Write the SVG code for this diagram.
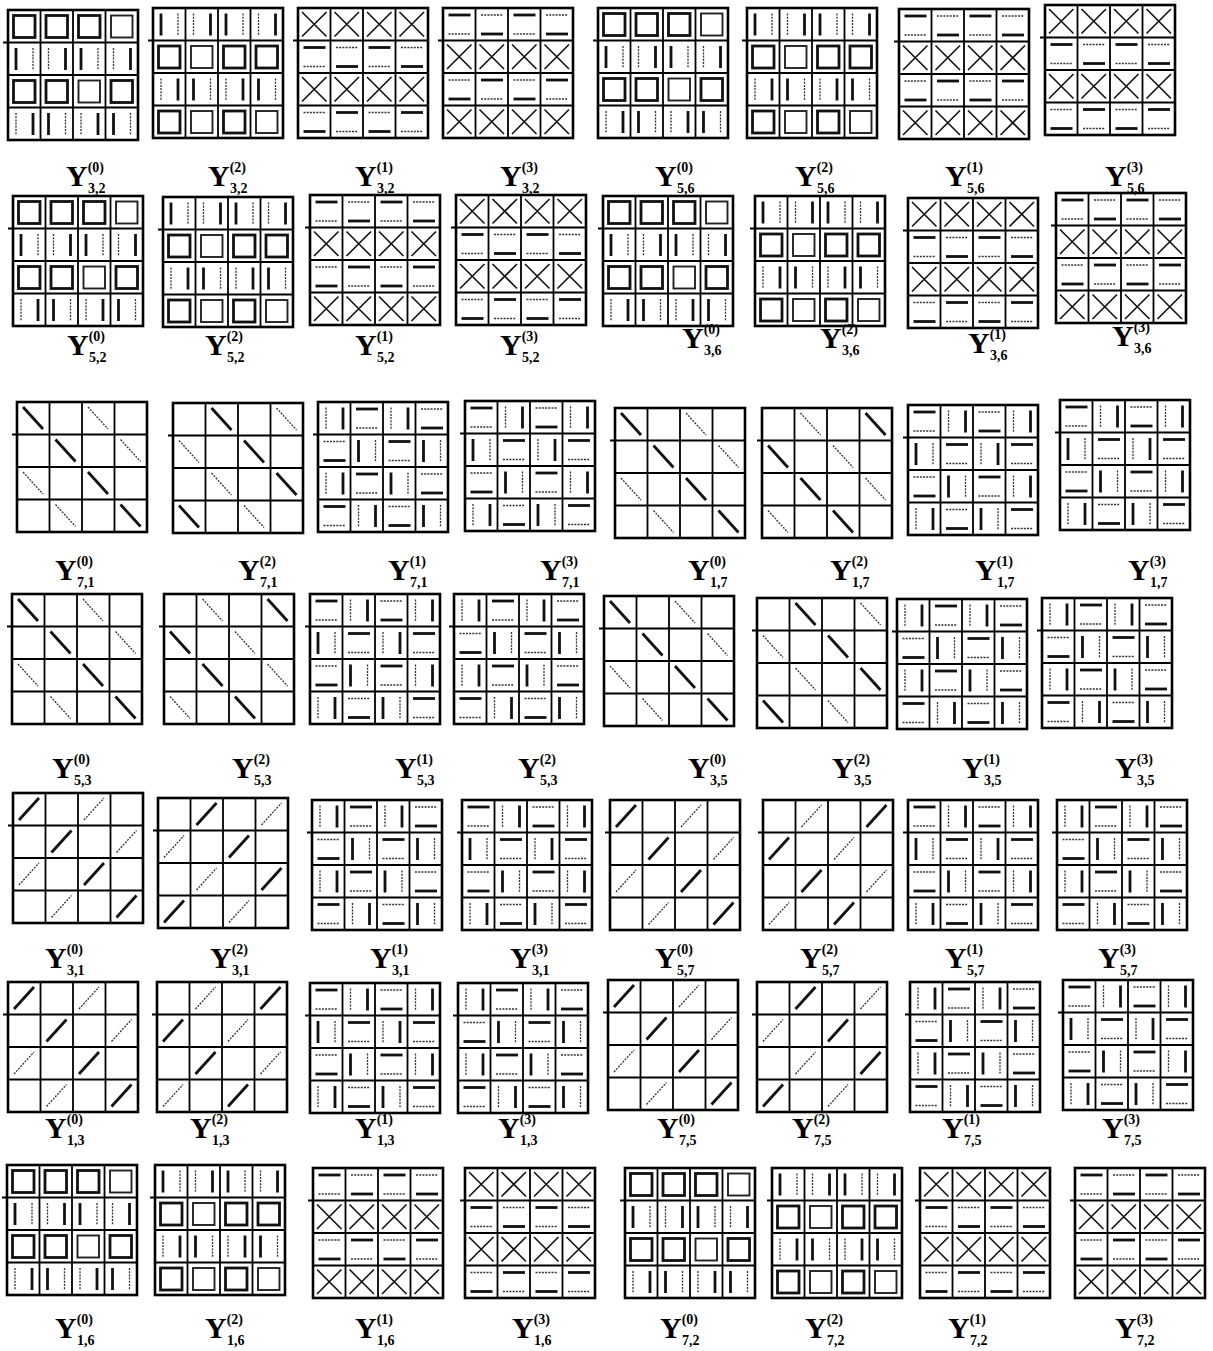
<svg xmlns="http://www.w3.org/2000/svg" width="1213" height="1351" viewBox="0 0 1213 1351">
<style>
.fr{fill:none;stroke:#000;stroke-width:2.6}
.ln{fill:none;stroke:#000;stroke-width:1.8}
.k{fill:none;stroke:#111;stroke-width:2.8}
.q{fill:none;stroke:#222;stroke-width:1.9}
.t{fill:none;stroke:#333;stroke-width:1.3;stroke-dasharray:2 1.2}
.x{fill:none;stroke:#111;stroke-width:1.6}
.y{font-family:"Liberation Serif","Times New Roman",serif;font-weight:bold;font-size:30px;fill:#000}
.s{font-size:14px}
</style>
<defs>
<g id="fr"><rect width="130" height="130" class="fr"/><path class="ln" d="M-5 32.5H130M0 65H130M0 97.5H130M32.5 0V130M65 0V130M97.5 0V130"/></g>
<rect id="sq" x="5.5" y="5.5" width="21.5" height="22" class="k"/>
<rect id="sqt" x="5.5" y="5.5" width="21.5" height="22" class="q"/>
<g id="vL"><line x1="8" y1="5.5" x2="8" y2="27.5" class="k"/><line x1="25" y1="5.5" x2="25" y2="27.5" class="t"/></g>
<g id="vR"><line x1="8" y1="5.5" x2="8" y2="27.5" class="t"/><line x1="25" y1="5.5" x2="25" y2="27.5" class="k"/></g>
<g id="hT"><line x1="5.5" y1="7" x2="27.5" y2="7" class="k"/><line x1="5.5" y1="26" x2="27.5" y2="26" class="t"/></g>
<g id="hB"><line x1="5.5" y1="7" x2="27.5" y2="7" class="t"/><line x1="5.5" y1="26" x2="27.5" y2="26" class="k"/></g>
<path id="xx" class="x" d="M4 4L28.5 28.5M28.5 4L4 28.5"/>
<line id="bk" x1="6" y1="5" x2="26" y2="27" class="k"/>
<line id="bt" x1="6" y1="5" x2="26" y2="27" class="t"/>
<line id="fk" x1="6" y1="27" x2="26" y2="5" class="k"/>
<line id="ft" x1="6" y1="27" x2="26" y2="5" class="t"/>

<g id="S0"><use href="#fr"/>
<use href="#sq"/><use href="#sq" x="32.5"/><use href="#sq" x="65"/><use href="#sqt" x="97.5"/>
<use href="#vL" y="32.5"/><use href="#vR" x="32.5" y="32.5"/><use href="#vL" x="65" y="32.5"/><use href="#vR" x="97.5" y="32.5"/>
<use href="#sq" y="65"/><use href="#sq" x="32.5" y="65"/><use href="#sqt" x="65" y="65"/><use href="#sq" x="97.5" y="65"/>
<use href="#vR" y="97.5"/><use href="#vL" x="32.5" y="97.5"/><use href="#vR" x="65" y="97.5"/><use href="#vL" x="97.5" y="97.5"/>
</g>
<g id="S2"><use href="#fr"/>
<use href="#vL"/><use href="#vR" x="32.5"/><use href="#vL" x="65"/><use href="#vR" x="97.5"/>
<use href="#sq" y="32.5"/><use href="#sqt" x="32.5" y="32.5"/><use href="#sq" x="65" y="32.5"/><use href="#sq" x="97.5" y="32.5"/>
<use href="#vR" y="65"/><use href="#vL" x="32.5" y="65"/><use href="#vR" x="65" y="65"/><use href="#vL" x="97.5" y="65"/>
<use href="#sq" y="97.5"/><use href="#sqt" x="32.5" y="97.5"/><use href="#sq" x="65" y="97.5"/><use href="#sqt" x="97.5" y="97.5"/>
</g>
<g id="X1"><use href="#fr"/>
<use href="#xx"/><use href="#xx" x="32.5"/><use href="#xx" x="65"/><use href="#xx" x="97.5"/>
<use href="#hT" y="32.5"/><use href="#hB" x="32.5" y="32.5"/><use href="#hT" x="65" y="32.5"/><use href="#hB" x="97.5" y="32.5"/>
<use href="#xx" y="65"/><use href="#xx" x="32.5" y="65"/><use href="#xx" x="65" y="65"/><use href="#xx" x="97.5" y="65"/>
<use href="#hB" y="97.5"/><use href="#hT" x="32.5" y="97.5"/><use href="#hB" x="65" y="97.5"/><use href="#hT" x="97.5" y="97.5"/>
</g>
<g id="X3"><use href="#fr"/>
<use href="#hT"/><use href="#hB" x="32.5"/><use href="#hT" x="65"/><use href="#hB" x="97.5"/>
<use href="#xx" y="32.5"/><use href="#xx" x="32.5" y="32.5"/><use href="#xx" x="65" y="32.5"/><use href="#xx" x="97.5" y="32.5"/>
<use href="#hB" y="65"/><use href="#hT" x="32.5" y="65"/><use href="#hB" x="65" y="65"/><use href="#hT" x="97.5" y="65"/>
<use href="#xx" y="97.5"/><use href="#xx" x="32.5" y="97.5"/><use href="#xx" x="65" y="97.5"/><use href="#xx" x="97.5" y="97.5"/>
</g>
<g id="B0"><use href="#fr"/>
<use href="#bk"/><use href="#bt" x="65"/>
<use href="#bk" x="32.5" y="32.5"/><use href="#bt" x="97.5" y="32.5"/>
<use href="#bt" y="65"/><use href="#bk" x="65" y="65"/>
<use href="#bt" x="32.5" y="97.5"/><use href="#bk" x="97.5" y="97.5"/>
</g>
<g id="B2n"><use href="#fr"/>
<use href="#bk" x="32.5"/><use href="#bt" x="97.5"/>
<use href="#bt" y="32.5"/><use href="#bk" x="65" y="32.5"/>
<use href="#bt" x="32.5" y="65"/><use href="#bk" x="97.5" y="65"/>
<use href="#bk" y="97.5"/><use href="#bt" x="65" y="97.5"/>
</g>
<g id="B2o"><use href="#fr"/>
<use href="#bt" x="32.5"/><use href="#bk" x="97.5"/>
<use href="#bk" y="32.5"/><use href="#bt" x="65" y="32.5"/>
<use href="#bk" x="32.5" y="65"/><use href="#bt" x="97.5" y="65"/>
<use href="#bt" y="97.5"/><use href="#bk" x="65" y="97.5"/>
</g>
<g id="F0"><use href="#fr"/>
<use href="#fk"/><use href="#ft" x="65"/>
<use href="#fk" x="32.5" y="32.5"/><use href="#ft" x="97.5" y="32.5"/>
<use href="#ft" y="65"/><use href="#fk" x="65" y="65"/>
<use href="#ft" x="32.5" y="97.5"/><use href="#fk" x="97.5" y="97.5"/>
</g>
<g id="F2n"><use href="#fr"/>
<use href="#fk" x="32.5"/><use href="#ft" x="97.5"/>
<use href="#ft" y="32.5"/><use href="#fk" x="65" y="32.5"/>
<use href="#ft" x="32.5" y="65"/><use href="#fk" x="97.5" y="65"/>
<use href="#fk" y="97.5"/><use href="#ft" x="65" y="97.5"/>
</g>
<g id="F2o"><use href="#fr"/>
<use href="#ft" x="32.5"/><use href="#fk" x="97.5"/>
<use href="#fk" y="32.5"/><use href="#ft" x="65" y="32.5"/>
<use href="#fk" x="32.5" y="65"/><use href="#ft" x="97.5" y="65"/>
<use href="#ft" y="97.5"/><use href="#fk" x="65" y="97.5"/>
</g>
<g id="Mv"><use href="#fr"/>
<use href="#vR"/><use href="#hT" x="32.5"/><use href="#vR" x="65"/><use href="#hB" x="97.5"/>
<use href="#hB" y="32.5"/><use href="#vL" x="32.5" y="32.5"/><use href="#hT" x="65" y="32.5"/><use href="#vL" x="97.5" y="32.5"/>
<use href="#vR" y="65"/><use href="#hT" x="32.5" y="65"/><use href="#vL" x="65" y="65"/><use href="#hB" x="97.5" y="65"/>
<use href="#hT" y="97.5"/><use href="#vR" x="32.5" y="97.5"/><use href="#hB" x="65" y="97.5"/><use href="#vL" x="97.5" y="97.5"/>
</g>
<g id="Mh"><use href="#fr"/>
<use href="#hT"/><use href="#vR" x="32.5"/><use href="#hB" x="65"/><use href="#vR" x="97.5"/>
<use href="#vL" y="32.5"/><use href="#hT" x="32.5" y="32.5"/><use href="#vR" x="65" y="32.5"/><use href="#hT" x="97.5" y="32.5"/>
<use href="#hB" y="65"/><use href="#vL" x="32.5" y="65"/><use href="#hT" x="65" y="65"/><use href="#vR" x="97.5" y="65"/>
<use href="#vR" y="97.5"/><use href="#hB" x="32.5" y="97.5"/><use href="#vL" x="65" y="97.5"/><use href="#hT" x="97.5" y="97.5"/>
</g>
</defs>

<g id="connectors"></g>

<!-- Row 1 -->
<g id="r1c1"><use href="#S0" x="8" y="10"/><text class="y" x="66" y="186">Y<tspan class="s" dy="-14">(0)</tspan><tspan class="s" x="88" dy="21">3,2</tspan></text></g>
<g id="r1c2"><use href="#S2" x="153" y="8"/><text class="y" x="208" y="186">Y<tspan class="s" dy="-14">(2)</tspan><tspan class="s" x="230" dy="21">3,2</tspan></text></g>
<g id="r1c3"><use href="#X1" x="298" y="8"/><text class="y" x="355" y="186">Y<tspan class="s" dy="-14">(1)</tspan><tspan class="s" x="377" dy="21">3,2</tspan></text></g>
<g id="r1c4"><use href="#X3" x="443" y="8"/><text class="y" x="500" y="186">Y<tspan class="s" dy="-14">(3)</tspan><tspan class="s" x="522" dy="21">3,2</tspan></text></g>
<g id="r1c5"><use href="#S0" x="598" y="8"/><text class="y" x="655" y="186">Y<tspan class="s" dy="-14">(0)</tspan><tspan class="s" x="677" dy="21">5,6</tspan></text></g>
<g id="r1c6"><use href="#S2" x="747" y="8"/><text class="y" x="795" y="186">Y<tspan class="s" dy="-14">(2)</tspan><tspan class="s" x="817" dy="21">5,6</tspan></text></g>
<g id="r1c7"><use href="#X3" x="899" y="9"/><text class="y" x="945" y="186">Y<tspan class="s" dy="-14">(1)</tspan><tspan class="s" x="967" dy="21">5,6</tspan></text></g>
<g id="r1c8"><use href="#X1" x="1045" y="5"/><text class="y" x="1105" y="186">Y<tspan class="s" dy="-14">(3)</tspan><tspan class="s" x="1127" dy="21">5,6</tspan></text></g>

<!-- Row 2 -->
<g id="r2c1"><use href="#S0" x="13" y="196"/><text class="y" x="67" y="355">Y<tspan class="s" dy="-14">(0)</tspan><tspan class="s" x="89" dy="21">5,2</tspan></text></g>
<g id="r2c2"><use href="#S2" x="163" y="197"/><text class="y" x="205" y="355">Y<tspan class="s" dy="-14">(2)</tspan><tspan class="s" x="227" dy="21">5,2</tspan></text></g>
<g id="r2c3"><use href="#X3" x="310" y="195"/><text class="y" x="355" y="355">Y<tspan class="s" dy="-14">(1)</tspan><tspan class="s" x="377" dy="21">5,2</tspan></text></g>
<g id="r2c4"><use href="#X1" x="456" y="195"/><text class="y" x="500" y="355">Y<tspan class="s" dy="-14">(3)</tspan><tspan class="s" x="522" dy="21">5,2</tspan></text></g>
<g id="r2c5"><use href="#S0" x="603" y="196"/><text class="y" x="682" y="348">Y<tspan class="s" dy="-14">(0)</tspan><tspan class="s" x="704" dy="21">3,6</tspan></text></g>
<g id="r2c6"><use href="#S2" x="755" y="196"/><text class="y" x="820" y="348">Y<tspan class="s" dy="-14">(2)</tspan><tspan class="s" x="842" dy="21">3,6</tspan></text></g>
<g id="r2c7"><use href="#X1" x="908" y="198"/><text class="y" x="968" y="353">Y<tspan class="s" dy="-14">(1)</tspan><tspan class="s" x="990" dy="21">3,6</tspan></text></g>
<g id="r2c8"><use href="#X3" x="1056" y="193"/><text class="y" x="1112" y="346">Y<tspan class="s" dy="-14">(3)</tspan><tspan class="s" x="1134" dy="21">3,6</tspan></text></g>

<!-- Row 3 -->
<g id="r3c1"><use href="#B0" x="17" y="402"/><text class="y" x="55" y="580">Y<tspan class="s" dy="-14">(0)</tspan><tspan class="s" x="77" dy="21">7,1</tspan></text></g>
<g id="r3c2"><use href="#B2n" x="173" y="403"/><text class="y" x="238" y="580">Y<tspan class="s" dy="-14">(2)</tspan><tspan class="s" x="260" dy="21">7,1</tspan></text></g>
<g id="r3c3"><use href="#Mv" x="318" y="402"/><text class="y" x="388" y="580">Y<tspan class="s" dy="-14">(1)</tspan><tspan class="s" x="410" dy="21">7,1</tspan></text></g>
<g id="r3c4"><use href="#Mh" x="465" y="401"/><text class="y" x="540" y="580">Y<tspan class="s" dy="-14">(3)</tspan><tspan class="s" x="562" dy="21">7,1</tspan></text></g>
<g id="r3c5"><use href="#B0" x="615" y="408"/><text class="y" x="688" y="580">Y<tspan class="s" dy="-14">(0)</tspan><tspan class="s" x="710" dy="21">1,7</tspan></text></g>
<g id="r3c6"><use href="#B2o" x="762" y="408"/><text class="y" x="830" y="580">Y<tspan class="s" dy="-14">(2)</tspan><tspan class="s" x="852" dy="21">1,7</tspan></text></g>
<g id="r3c7"><use href="#Mh" x="908" y="405"/><text class="y" x="975" y="580">Y<tspan class="s" dy="-14">(1)</tspan><tspan class="s" x="997" dy="21">1,7</tspan></text></g>
<g id="r3c8"><use href="#Mh" x="1060" y="400"/><text class="y" x="1128" y="580">Y<tspan class="s" dy="-14">(3)</tspan><tspan class="s" x="1150" dy="21">1,7</tspan></text></g>

<!-- Row 4 -->
<g id="r4c1"><use href="#B0" x="12" y="594"/><text class="y" x="52" y="778">Y<tspan class="s" dy="-14">(0)</tspan><tspan class="s" x="74" dy="21">5,3</tspan></text></g>
<g id="r4c2"><use href="#B2o" x="164" y="594"/><text class="y" x="232" y="778">Y<tspan class="s" dy="-14">(2)</tspan><tspan class="s" x="254" dy="21">5,3</tspan></text></g>
<g id="r4c3"><use href="#Mh" x="310" y="594"/><text class="y" x="395" y="778">Y<tspan class="s" dy="-14">(1)</tspan><tspan class="s" x="417" dy="21">5,3</tspan></text></g>
<g id="r4c4"><use href="#Mv" x="454" y="594"/><text class="y" x="518" y="778">Y<tspan class="s" dy="-14">(2)</tspan><tspan class="s" x="540" dy="21">5,3</tspan></text></g>
<g id="r4c5"><use href="#B0" x="604" y="596"/><text class="y" x="688" y="778">Y<tspan class="s" dy="-14">(0)</tspan><tspan class="s" x="710" dy="21">3,5</tspan></text></g>
<g id="r4c6"><use href="#B2n" x="757" y="598"/><text class="y" x="832" y="778">Y<tspan class="s" dy="-14">(2)</tspan><tspan class="s" x="854" dy="21">3,5</tspan></text></g>
<g id="r4c7"><use href="#Mv" x="897" y="599"/><text class="y" x="962" y="778">Y<tspan class="s" dy="-14">(1)</tspan><tspan class="s" x="984" dy="21">3,5</tspan></text></g>
<g id="r4c8"><use href="#Mv" x="1042" y="598"/><text class="y" x="1115" y="778">Y<tspan class="s" dy="-14">(3)</tspan><tspan class="s" x="1137" dy="21">3,5</tspan></text></g>

<!-- Row 5 -->
<g id="r5c1"><use href="#F0" x="13" y="793"/><text class="y" x="45" y="968">Y<tspan class="s" dy="-14">(0)</tspan><tspan class="s" x="67" dy="21">3,1</tspan></text></g>
<g id="r5c2"><use href="#F2n" x="158" y="798"/><text class="y" x="210" y="968">Y<tspan class="s" dy="-14">(2)</tspan><tspan class="s" x="232" dy="21">3,1</tspan></text></g>
<g id="r5c3"><use href="#Mv" x="312" y="800"/><text class="y" x="370" y="968">Y<tspan class="s" dy="-14">(1)</tspan><tspan class="s" x="392" dy="21">3,1</tspan></text></g>
<g id="r5c4"><use href="#Mh" x="462" y="800"/><text class="y" x="510" y="968">Y<tspan class="s" dy="-14">(3)</tspan><tspan class="s" x="532" dy="21">3,1</tspan></text></g>
<g id="r5c5"><use href="#F0" x="610" y="800"/><text class="y" x="655" y="968">Y<tspan class="s" dy="-14">(0)</tspan><tspan class="s" x="677" dy="21">5,7</tspan></text></g>
<g id="r5c6"><use href="#F2o" x="763" y="800"/><text class="y" x="800" y="968">Y<tspan class="s" dy="-14">(2)</tspan><tspan class="s" x="822" dy="21">5,7</tspan></text></g>
<g id="r5c7"><use href="#Mh" x="908" y="800"/><text class="y" x="945" y="968">Y<tspan class="s" dy="-14">(1)</tspan><tspan class="s" x="967" dy="21">5,7</tspan></text></g>
<g id="r5c8"><use href="#Mv" x="1057" y="800"/><text class="y" x="1098" y="968">Y<tspan class="s" dy="-14">(3)</tspan><tspan class="s" x="1120" dy="21">5,7</tspan></text></g>

<!-- Row 6 -->
<g id="r6c1"><use href="#F0" x="8" y="982"/><text class="y" x="45" y="1138">Y<tspan class="s" dy="-14">(0)</tspan><tspan class="s" x="67" dy="21">1,3</tspan></text></g>
<g id="r6c2"><use href="#F2o" x="157" y="982"/><text class="y" x="190" y="1138">Y<tspan class="s" dy="-14">(2)</tspan><tspan class="s" x="212" dy="21">1,3</tspan></text></g>
<g id="r6c3"><use href="#Mh" x="310" y="983"/><text class="y" x="355" y="1138">Y<tspan class="s" dy="-14">(1)</tspan><tspan class="s" x="377" dy="21">1,3</tspan></text></g>
<g id="r6c4"><use href="#Mv" x="458" y="983"/><text class="y" x="498" y="1138">Y<tspan class="s" dy="-14">(3)</tspan><tspan class="s" x="520" dy="21">1,3</tspan></text></g>
<g id="r6c5"><use href="#F0" x="608" y="980"/><text class="y" x="657" y="1138">Y<tspan class="s" dy="-14">(0)</tspan><tspan class="s" x="679" dy="21">7,5</tspan></text></g>
<g id="r6c6"><use href="#F2n" x="757" y="982"/><text class="y" x="792" y="1138">Y<tspan class="s" dy="-14">(2)</tspan><tspan class="s" x="814" dy="21">7,5</tspan></text></g>
<g id="r6c7"><use href="#Mv" x="910" y="982"/><text class="y" x="942" y="1138">Y<tspan class="s" dy="-14">(1)</tspan><tspan class="s" x="964" dy="21">7,5</tspan></text></g>
<g id="r6c8"><use href="#Mh" x="1063" y="980"/><text class="y" x="1102" y="1138">Y<tspan class="s" dy="-14">(3)</tspan><tspan class="s" x="1124" dy="21">7,5</tspan></text></g>

<!-- Row 7 -->
<g id="r7c1"><use href="#S0" x="7" y="1165"/><text class="y" x="55" y="1338">Y<tspan class="s" dy="-14">(0)</tspan><tspan class="s" x="77" dy="21">1,6</tspan></text></g>
<g id="r7c2"><use href="#S2" x="155" y="1165"/><text class="y" x="205" y="1338">Y<tspan class="s" dy="-14">(2)</tspan><tspan class="s" x="227" dy="21">1,6</tspan></text></g>
<g id="r7c3"><use href="#X3" x="313" y="1168"/><text class="y" x="355" y="1338">Y<tspan class="s" dy="-14">(1)</tspan><tspan class="s" x="377" dy="21">1,6</tspan></text></g>
<g id="r7c4"><use href="#X1" x="465" y="1168"/><text class="y" x="512" y="1338">Y<tspan class="s" dy="-14">(3)</tspan><tspan class="s" x="534" dy="21">1,6</tspan></text></g>
<g id="r7c5"><use href="#S0" x="625" y="1168"/><text class="y" x="660" y="1338">Y<tspan class="s" dy="-14">(0)</tspan><tspan class="s" x="682" dy="21">7,2</tspan></text></g>
<g id="r7c6"><use href="#S2" x="772" y="1168"/><text class="y" x="805" y="1338">Y<tspan class="s" dy="-14">(2)</tspan><tspan class="s" x="827" dy="21">7,2</tspan></text></g>
<g id="r7c7"><use href="#X1" x="920" y="1168"/><text class="y" x="948" y="1338">Y<tspan class="s" dy="-14">(1)</tspan><tspan class="s" x="970" dy="21">7,2</tspan></text></g>
<g id="r7c8"><use href="#X3" x="1075" y="1168"/><text class="y" x="1115" y="1338">Y<tspan class="s" dy="-14">(3)</tspan><tspan class="s" x="1137" dy="21">7,2</tspan></text></g>
</svg>
